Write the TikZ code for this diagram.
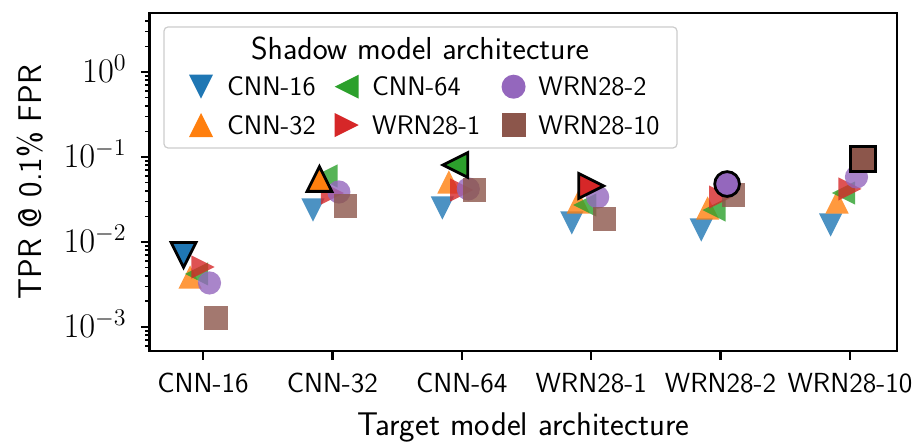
\documentclass[tikz,border=0pt]{standalone}
\usepackage{amsmath}
\usepackage{tikz}

\definecolor{c16}{HTML}{1F77B4}
\definecolor{c32}{HTML}{FF7F0E}
\definecolor{c64}{HTML}{2CA02C}
\definecolor{w1}{HTML}{D62728}
\definecolor{w2}{HTML}{9467BD}
\definecolor{w10}{HTML}{8C564B}

\begin{document}
\begin{tikzpicture}[x=64.7pt,y=42.5pt,
    tk/.style={line width=1.2pt},
    mk/.style={fill=#1,fill opacity=.8},
    hl/.style={fill=#1,draw=black,line width=1.4pt,line join=miter},
    lab/.style={font=\fontsize{13.4}{16}\selectfont\sffamily},
    big/.style={font=\fontsize{16.4}{19}\selectfont\sffamily},
    pics/tdown/.style={code={\path[pic actions] (-#1,#1) -- (#1,#1) -- (0,-#1) -- cycle;}},
    pics/tup/.style={code={\path[pic actions] (-#1,-#1) -- (#1,-#1) -- (0,#1) -- cycle;}},
    pics/tleft/.style={code={\path[pic actions] (#1,#1) -- (#1,-#1) -- (-#1,0) -- cycle;}},
    pics/tright/.style={code={\path[pic actions] (-#1,#1) -- (-#1,-#1) -- (#1,0) -- cycle;}},
    pics/dot/.style={code={\path[pic actions] (0,0) circle[radius=#1];}},
    pics/sq/.style={code={\path[pic actions] (-#1,-#1) rectangle (#1,#1);}}]
  \useasboundingbox (-1.569,0.847) rectangle (5.5255,-4.365);
  \coordinate (sw) at (-0.4125,-3.282);
  \coordinate (ne) at (5.3625,0.694);

  \foreach \shp/\col/\dx/\vals in {
      tdown/c16/-0.15/{-2.153,-1.624,-1.600,-1.776,-1.859,-1.800},
      tup/c32/-0.10/{-2.412,-1.259,-1.294,-1.529,-1.600,-1.529},
      tleft/c64/-0.05/{-2.376,-1.224,-1.094,-1.565,-1.624,-1.424},
      tright/w1/0/{-2.294,-1.424,-1.388,-1.341,-1.471,-1.376},
      dot/w2/0.05/{-2.482,-1.412,-1.376,-1.471,-1.318,-1.235},
      sq/w10/0.10/{-2.894,-1.576,-1.388,-1.729,-1.447,-1.024}}
    \foreach \v [count=\i from 0] in \vals
      \pic[mk=\col] at (\i+\dx,\v) {\shp=5.8pt};
  \foreach \shp/\col/\x/\v in {tdown/c16/-0.15/-2.153, tup/c32/0.90/-1.259,
      tleft/c64/1.95/-1.094, tright/w1/3/-1.341, dot/w2/4.05/-1.318, sq/w10/5.10/-1.024}
    \pic[hl=\col] at (\x,\v) {\shp=6.2pt};

  \draw[tk] (sw) rectangle (ne);
  \foreach \lbl [count=\i from 0] in {CNN-16,CNN-32,CNN-64,WRN28-1,WRN28-2,WRN28-10} {
    \draw[tk] (\i,-3.282) -- ++(0,-4.5pt);
    \node[lab,font=\fontsize{13.8}{16}\selectfont\sffamily,anchor=base] (xt\i) at (\i,-3.776) {\lbl};
  }
  \foreach \d [count=\j] in {0,-1,-2,-3} {
    \draw[tk] (-0.4125,\d) -- ++(-4.5pt,0);
    \node[anchor=base east,inner sep=0pt,font=\fontsize{16.4}{19}\selectfont] (yt\j) at (-0.587,\d-0.125) {$10^{\d}$};
  }
  \foreach \d in {-4,...,0}
    \foreach \k in {2,...,9} {
      \pgfmathsetmacro\t{\d+log10(\k)}
      \ifdim\t pt>-3.28pt \ifdim\t pt<0.69pt
        \draw[line width=.9pt] (-0.4125,\t) -- ++(-2.5pt,0);
      \fi\fi
    }
  \node[big,rotate=90] (ylab) at (-1.337,-1.294) {TPR @ 0.1\% FPR};
  \node[big,anchor=base] (xlab) at (2.475,-4.282) {Target model architecture};

  \draw[draw=black!20,fill=white,fill opacity=.8,rounded corners=2pt,line width=.6pt]
    (-0.3014,0.5294) rectangle (3.663,-0.894);
  \node[font=\fontsize{15.9}{18}\selectfont\sffamily] (ttl) at (1.677,0.282) {Shadow model architecture};
  \foreach \shp/\col/\lbl/\mx/\tx/\ry [count=\i] in {
      tdown/c16/CNN-16/-0.0155/0.183/-0.173, tup/c32/CNN-32/-0.0155/0.183/-0.624,
      tleft/c64/CNN-64/1.1105/1.304/-0.173, tright/w1/WRN28-1/1.1105/1.304/-0.624,
      dot/w2/WRN28-2/2.40/2.589/-0.173, sq/w10/WRN28-10/2.40/2.589/-0.624} {
    \pic[fill=\col] at (\mx,\ry) {\shp=6pt};
    \node[lab,anchor=west,inner sep=0pt] (leg\i) at (\tx,\ry) {\lbl};
  }
\end{tikzpicture}
\end{document}
